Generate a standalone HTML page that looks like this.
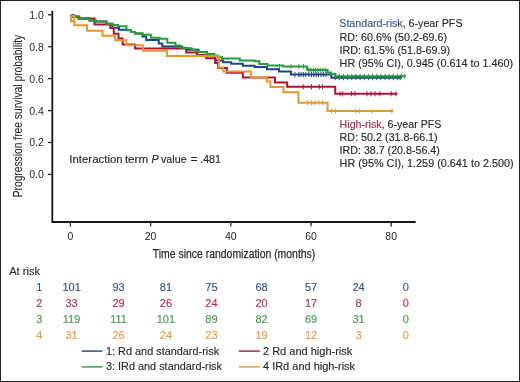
<!DOCTYPE html>
<html><head><meta charset="utf-8"><style>
html,body{margin:0;padding:0;background:#fff;}
body{width:520px;height:382px;overflow:hidden;position:relative;}
#frame{position:absolute;left:0;top:0;width:520px;height:382px;box-sizing:border-box;border:1px solid #222;}
svg{position:absolute;left:0;top:0;will-change:transform;}
text{font-family:"Liberation Sans", sans-serif;}
</style></head><body><div id="frame"></div>
<svg width="520" height="382" viewBox="0 0 520 382">
<g fill="#2a2a2a" font-size="10.5" stroke="#2a2a2a" stroke-width="1.3">
<path d="M52.3,10.8 V222 H415.7" fill="none" stroke="#161616" stroke-width="1.8"/>
<line x1="48" y1="14.8" x2="52.5" y2="14.8"/><text x="43.8" y="18.7" text-anchor="end" stroke="none">1.0</text><line x1="48" y1="46.7" x2="52.5" y2="46.7"/><text x="43.8" y="50.6" text-anchor="end" stroke="none">0.8</text><line x1="48" y1="78.6" x2="52.5" y2="78.6"/><text x="43.8" y="82.5" text-anchor="end" stroke="none">0.6</text><line x1="48" y1="110.6" x2="52.5" y2="110.6"/><text x="43.8" y="114.5" text-anchor="end" stroke="none">0.4</text><line x1="48" y1="142.5" x2="52.5" y2="142.5"/><text x="43.8" y="146.4" text-anchor="end" stroke="none">0.2</text><line x1="48" y1="174.4" x2="52.5" y2="174.4"/><text x="43.8" y="178.3" text-anchor="end" stroke="none">0.0</text>
<line x1="70.4" y1="222" x2="70.4" y2="226.5"/><text x="70.4" y="240" text-anchor="middle" stroke="none">0</text><line x1="150.6" y1="222" x2="150.6" y2="226.5"/><text x="150.6" y="240" text-anchor="middle" stroke="none">20</text><line x1="230.8" y1="222" x2="230.8" y2="226.5"/><text x="230.8" y="240" text-anchor="middle" stroke="none">40</text><line x1="311.0" y1="222" x2="311.0" y2="226.5"/><text x="311.0" y="240" text-anchor="middle" stroke="none">60</text><line x1="391.2" y1="222" x2="391.2" y2="226.5"/><text x="391.2" y="240" text-anchor="middle" stroke="none">80</text>
</g>
<text x="152.8" y="258" font-size="13.5" fill="#2a2a2a" stroke="#2a2a2a" stroke-width="0.25" textLength="162.5" lengthAdjust="spacingAndGlyphs">Time since randomization (months)</text>
<text transform="translate(21.8,197.3) rotate(-90)" x="0" y="0" font-size="13.1" fill="#2a2a2a" stroke="#2a2a2a" stroke-width="0.1" textLength="162.5" lengthAdjust="spacingAndGlyphs">Progression free survival probability</text>
<g fill="none" stroke-width="2" stroke-linejoin="miter">
<path d="M71,15.2 H74.2 V16.4 H79.3 V18.5 H89.5 V20.4 H95.7 V21.6 H106.5 V23.8 H112.6 V27.7 H119 V29.8 H126.5 V30.2 H131 V31.9 H135 V33.5 H142.5 V36.5 H146.2 V40 H158.8 V43.5 H162.3 V46.5 H182 V48 H188 V49.7 H198.5 V52 H207 V53.9 H214 V55.5 H215.4 V60.4 H223.2 V62.2 H231.2 V63.8 H242.8 V65.7 H254.6 V67 H267 V69.2 H279 V71.6 H291 V74.6 H331.4 V77.7 H400.8" stroke="#1d4585"/>
<path d="M71,15.2 V16.7 H78.5 V18.4 H94.5 V24.6 H110.4 V28 H113.8 V33.8 H118.5 V38.6 H122.6 V44.4 H135 V48.6 H186.2 V52.5 H197 V55 H206.2 V58.3 H215.2 V63 H218.2 V68 H226.8 V72.8 H242.8 V77.6 H275 V82.4 H287.2 V86.8 H335.2 V93.8 H397.3" stroke="#ad1239"/>
<path d="M71,15.2 H74.2 V16.7 H78.5 V18.5 H89.5 V20.4 H95.7 V21.6 H106.5 V23.8 H112.3 V25 H118 V26.2 H126.5 V30 H131 V31.9 H135 V33.5 H142.5 V34.8 H150.8 V37.7 H159.6 V38.8 H167.3 V42.7 H175.4 V45.4 H180 V47.4 H183.8 V48.3 H191.5 V49.4 H195.6 V50.9 H198.9 V52.3 H207 V53.9 H214 V55.5 H218 V57.2 H222 V58.5 H239.7 V60.5 H254.6 V61.3 H259.3 V64.1 H267.5 V65.6 H282.9 V66.6 H307.2 V70.1 H327.5 V72.4 H331 V74 H335.5 V76.3 H405.6" stroke="#2b9a3c"/>
<path d="M71,16 V21.2 H74.3 M71,16 H74.3 V25.2 H87 V30.8 H102.5 V35.8 H115 V40.3 H126.3 V45.2 H142.8 V50.8 H167 V56 H218.9 V67.6 H223.2 V71.4 H250.8 V77.2 H266.9 V81.6 H270.4 V87 H283.5 V92.2 H298.5 V102.7 H327.6 V111 H393.3" stroke="#e9962a"/>
</g>
<g stroke="#1d4585" stroke-width="1"><line x1="294.9" y1="72.1" x2="294.9" y2="77.1"/><line x1="298.8" y1="72.1" x2="298.8" y2="77.1"/><line x1="301" y1="72.1" x2="301" y2="77.1"/><line x1="303.4" y1="72.1" x2="303.4" y2="77.1"/><line x1="305.7" y1="72.1" x2="305.7" y2="77.1"/><line x1="308.8" y1="72.1" x2="308.8" y2="77.1"/><line x1="311.5" y1="72.1" x2="311.5" y2="77.1"/><line x1="313.8" y1="72.1" x2="313.8" y2="77.1"/><line x1="316.1" y1="72.1" x2="316.1" y2="77.1"/><line x1="318.4" y1="72.1" x2="318.4" y2="77.1"/><line x1="321" y1="72.1" x2="321" y2="77.1"/><line x1="323.4" y1="72.1" x2="323.4" y2="77.1"/><line x1="326" y1="72.1" x2="326" y2="77.1"/></g>
<g stroke="#1d4585" stroke-width="1"><line x1="335.2" y1="75.2" x2="335.2" y2="80.2"/><line x1="339.34999999999997" y1="75.2" x2="339.34999999999997" y2="80.2"/><line x1="343.5" y1="75.2" x2="343.5" y2="80.2"/><line x1="347.65" y1="75.2" x2="347.65" y2="80.2"/><line x1="351.8" y1="75.2" x2="351.8" y2="80.2"/><line x1="355.95" y1="75.2" x2="355.95" y2="80.2"/><line x1="360.09999999999997" y1="75.2" x2="360.09999999999997" y2="80.2"/><line x1="364.25" y1="75.2" x2="364.25" y2="80.2"/><line x1="368.4" y1="75.2" x2="368.4" y2="80.2"/><line x1="372.55" y1="75.2" x2="372.55" y2="80.2"/><line x1="376.7" y1="75.2" x2="376.7" y2="80.2"/><line x1="380.85" y1="75.2" x2="380.85" y2="80.2"/><line x1="385.0" y1="75.2" x2="385.0" y2="80.2"/><line x1="389.15" y1="75.2" x2="389.15" y2="80.2"/><line x1="393.3" y1="75.2" x2="393.3" y2="80.2"/><line x1="397.45" y1="75.2" x2="397.45" y2="80.2"/><line x1="400.2" y1="75.2" x2="400.2" y2="80.2"/></g>
<g stroke="#2b9a3c" stroke-width="1"><line x1="279.5" y1="63.900000000000006" x2="279.5" y2="68.9"/><line x1="291.1" y1="63.900000000000006" x2="291.1" y2="68.9"/><line x1="298.8" y1="63.900000000000006" x2="298.8" y2="68.9"/><line x1="303.4" y1="63.900000000000006" x2="303.4" y2="68.9"/></g>
<g stroke="#2b9a3c" stroke-width="1"><line x1="309" y1="67.6" x2="309" y2="72.6"/><line x1="311" y1="67.6" x2="311" y2="72.6"/><line x1="313.4" y1="67.6" x2="313.4" y2="72.6"/><line x1="315.7" y1="67.6" x2="315.7" y2="72.6"/><line x1="318" y1="67.6" x2="318" y2="72.6"/><line x1="320.3" y1="67.6" x2="320.3" y2="72.6"/><line x1="323" y1="67.6" x2="323" y2="72.6"/><line x1="325.7" y1="67.6" x2="325.7" y2="72.6"/></g>
<g stroke="#2b9a3c" stroke-width="1"><line x1="335.2" y1="73.8" x2="335.2" y2="78.8"/><line x1="339.34999999999997" y1="73.8" x2="339.34999999999997" y2="78.8"/><line x1="343.5" y1="73.8" x2="343.5" y2="78.8"/><line x1="347.65" y1="73.8" x2="347.65" y2="78.8"/><line x1="351.8" y1="73.8" x2="351.8" y2="78.8"/><line x1="355.95" y1="73.8" x2="355.95" y2="78.8"/><line x1="360.09999999999997" y1="73.8" x2="360.09999999999997" y2="78.8"/><line x1="364.25" y1="73.8" x2="364.25" y2="78.8"/><line x1="368.4" y1="73.8" x2="368.4" y2="78.8"/><line x1="372.55" y1="73.8" x2="372.55" y2="78.8"/><line x1="376.7" y1="73.8" x2="376.7" y2="78.8"/><line x1="380.85" y1="73.8" x2="380.85" y2="78.8"/><line x1="385.0" y1="73.8" x2="385.0" y2="78.8"/><line x1="389.15" y1="73.8" x2="389.15" y2="78.8"/><line x1="393.3" y1="73.8" x2="393.3" y2="78.8"/><line x1="397.45" y1="73.8" x2="397.45" y2="78.8"/><line x1="401.6" y1="73.8" x2="401.6" y2="78.8"/><line x1="404.8" y1="73.8" x2="404.8" y2="78.8"/></g>
<g stroke="#ad1239" stroke-width="1"><line x1="303.3" y1="84.3" x2="303.3" y2="89.3"/><line x1="311.5" y1="84.3" x2="311.5" y2="89.3"/><line x1="319.2" y1="84.3" x2="319.2" y2="89.3"/><line x1="322.5" y1="84.3" x2="322.5" y2="89.3"/></g>
<g stroke="#ad1239" stroke-width="1"><line x1="340.1" y1="91.3" x2="340.1" y2="96.3"/><line x1="342.8" y1="91.3" x2="342.8" y2="96.3"/><line x1="351.5" y1="91.3" x2="351.5" y2="96.3"/><line x1="354.9" y1="91.3" x2="354.9" y2="96.3"/><line x1="367" y1="91.3" x2="367" y2="96.3"/><line x1="371" y1="91.3" x2="371" y2="96.3"/><line x1="375" y1="91.3" x2="375" y2="96.3"/><line x1="379.8" y1="91.3" x2="379.8" y2="96.3"/><line x1="391.2" y1="91.3" x2="391.2" y2="96.3"/><line x1="396" y1="91.3" x2="396" y2="96.3"/></g>
<g stroke="#e9962a" stroke-width="1"><line x1="307.6" y1="100.2" x2="307.6" y2="105.2"/><line x1="311.5" y1="100.2" x2="311.5" y2="105.2"/><line x1="314.8" y1="100.2" x2="314.8" y2="105.2"/><line x1="318.7" y1="100.2" x2="318.7" y2="105.2"/><line x1="322.5" y1="100.2" x2="322.5" y2="105.2"/></g>
<g stroke="#e9962a" stroke-width="1"><line x1="331.6" y1="108.5" x2="331.6" y2="113.5"/><line x1="335.3" y1="108.5" x2="335.3" y2="113.5"/><line x1="355.6" y1="108.5" x2="355.6" y2="113.5"/><line x1="359" y1="108.5" x2="359" y2="113.5"/><line x1="371.7" y1="108.5" x2="371.7" y2="113.5"/><line x1="391.9" y1="108.5" x2="391.9" y2="113.5"/></g>

<g font-size="10.6" fill="#2a2a2a" stroke="#2a2a2a" stroke-width="0.15">
<text x="339.3" y="27" textLength="123.2" lengthAdjust="spacingAndGlyphs"><tspan fill="#335887" stroke="#335887">Standard-risk</tspan>, 6-year PFS</text>
<text x="339.6" y="41" textLength="107.5" lengthAdjust="spacingAndGlyphs">RD: 60.6% (50.2-69.6)</text>
<text x="339.6" y="54" textLength="110.4" lengthAdjust="spacingAndGlyphs">IRD: 61.5% (51.8-69.9)</text>
<text x="339.6" y="67" textLength="173.5" lengthAdjust="spacingAndGlyphs">HR (95% CI), 0.945 (0.614 to 1.460)</text>
<text x="339.6" y="128" textLength="101.8" lengthAdjust="spacingAndGlyphs"><tspan fill="#b02848" stroke="#b02848">High-risk</tspan>, 6-year PFS</text>
<text x="339.6" y="141" textLength="98.1" lengthAdjust="spacingAndGlyphs">RD: 50.2 (31.8-66.1)</text>
<text x="339.6" y="154" textLength="100.2" lengthAdjust="spacingAndGlyphs">IRD: 38.7 (20.8-56.4)</text>
<text x="339.6" y="167" textLength="174.1" lengthAdjust="spacingAndGlyphs">HR (95% CI), 1.259 (0.641 to 2.500)</text>
<text x="69.3" y="162.5" textLength="53.4" lengthAdjust="spacingAndGlyphs">Interaction</text>
<text x="124.9" y="162.5" textLength="23.2" lengthAdjust="spacingAndGlyphs">term</text>
<text x="151.6" y="162.5" font-style="italic" textLength="7.2" lengthAdjust="spacingAndGlyphs">P</text>
<text x="161" y="162.5" textLength="25.6" lengthAdjust="spacingAndGlyphs">value</text>
<text x="190.7" y="162.5" textLength="6.8" lengthAdjust="spacingAndGlyphs">=</text>
<text x="200.2" y="162.5" textLength="20.8" lengthAdjust="spacingAndGlyphs">.481</text>
<text x="9.2" y="274.5" textLength="30.9" lengthAdjust="spacingAndGlyphs">At risk</text>
</g>
<g font-size="11">
<g fill="#34557f" stroke="#34557f" stroke-width="0.15"><text x="42.4" y="291" text-anchor="end">1</text><text x="71.6" y="291" text-anchor="middle">101</text><text x="118.5" y="291" text-anchor="middle">93</text><text x="165.9" y="291" text-anchor="middle">81</text><text x="211.4" y="291" text-anchor="middle">75</text><text x="261.6" y="291" text-anchor="middle">68</text><text x="311" y="291" text-anchor="middle">57</text><text x="358.6" y="291" text-anchor="middle">24</text><text x="405.8" y="291" text-anchor="middle">0</text></g>
<g fill="#b5304c" stroke="#b5304c" stroke-width="0.15"><text x="42.4" y="307" text-anchor="end">2</text><text x="71.6" y="307" text-anchor="middle">33</text><text x="118.5" y="307" text-anchor="middle">29</text><text x="165.9" y="307" text-anchor="middle">26</text><text x="211.4" y="307" text-anchor="middle">24</text><text x="261.6" y="307" text-anchor="middle">20</text><text x="311" y="307" text-anchor="middle">17</text><text x="358.6" y="307" text-anchor="middle">8</text><text x="405.8" y="307" text-anchor="middle">0</text></g>
<g fill="#479a47" stroke="#479a47" stroke-width="0.15"><text x="42.4" y="323" text-anchor="end">3</text><text x="71.6" y="323" text-anchor="middle">119</text><text x="118.5" y="323" text-anchor="middle">111</text><text x="165.9" y="323" text-anchor="middle">101</text><text x="211.4" y="323" text-anchor="middle">89</text><text x="261.6" y="323" text-anchor="middle">82</text><text x="311" y="323" text-anchor="middle">69</text><text x="358.6" y="323" text-anchor="middle">31</text><text x="405.8" y="323" text-anchor="middle">0</text></g>
<g fill="#e79c44" stroke="#e79c44" stroke-width="0.15"><text x="42.4" y="339" text-anchor="end">4</text><text x="71.6" y="339" text-anchor="middle">31</text><text x="118.5" y="339" text-anchor="middle">26</text><text x="165.9" y="339" text-anchor="middle">24</text><text x="211.4" y="339" text-anchor="middle">23</text><text x="261.6" y="339" text-anchor="middle">19</text><text x="311" y="339" text-anchor="middle">12</text><text x="358.6" y="339" text-anchor="middle">3</text><text x="405.8" y="339" text-anchor="middle">0</text></g>

</g>
<g stroke-width="1.4">
<line x1="81.7" y1="351.1" x2="102.5" y2="351.1" stroke="#243f70"/>
<line x1="238.9" y1="351.1" x2="259.8" y2="351.1" stroke="#a3143a"/>
<line x1="81.7" y1="366.9" x2="102.5" y2="366.9" stroke="#2b9a3c"/>
<line x1="238.9" y1="366.9" x2="259.8" y2="366.9" stroke="#e9962a"/>
</g>
<g font-size="10.6" fill="#2a2a2a" stroke="#2a2a2a" stroke-width="0.15">
<text x="106" y="355.1" textLength="113.1" lengthAdjust="spacingAndGlyphs">1: Rd and standard-risk</text>
<text x="263" y="355.1" textLength="89.3" lengthAdjust="spacingAndGlyphs">2 Rd and high-risk</text>
<text x="106" y="370.4" textLength="116" lengthAdjust="spacingAndGlyphs">3: IRd and standard-risk</text>
<text x="263" y="370.4" textLength="92.1" lengthAdjust="spacingAndGlyphs">4 IRd and high-risk</text>
</g>
</svg></body></html>
